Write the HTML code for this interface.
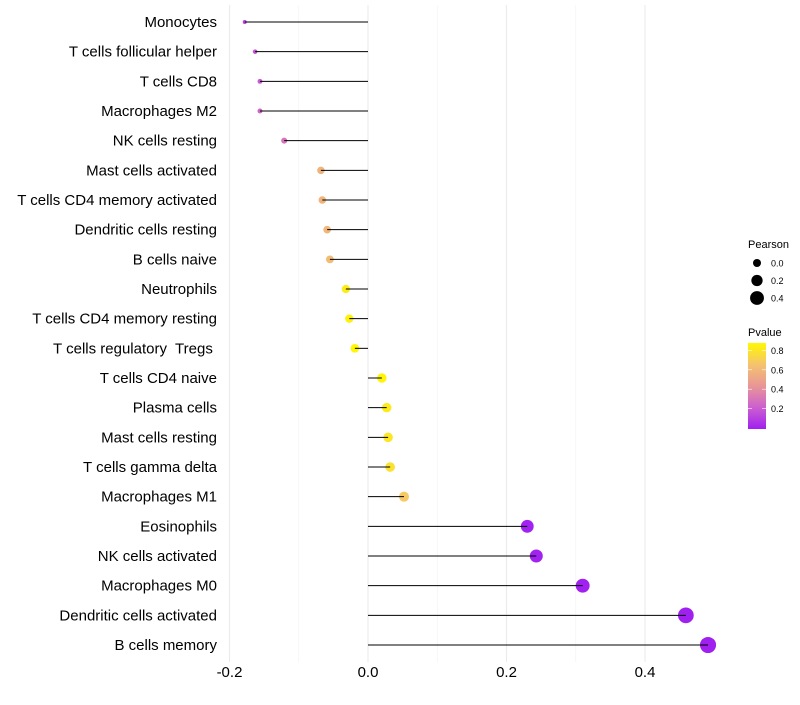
<!DOCTYPE html>
<html><head><meta charset="utf-8"><style>
body{margin:0;background:#fff;font-family:"Liberation Sans",sans-serif}
text{white-space:pre}
</style></head><body>
<svg id="c" width="800" height="700" xmlns="http://www.w3.org/2000/svg"></svg>
<script>
const cats=["Monocytes","T cells follicular helper","T cells CD8","Macrophages M2","NK cells resting","Mast cells activated","T cells CD4 memory activated","Dendritic cells resting","B cells naive","Neutrophils","T cells CD4 memory resting","T cells regulatory  Tregs ","T cells CD4 naive","Plasma cells","Mast cells resting","T cells gamma delta","Macrophages M1","Eosinophils","NK cells activated","Macrophages M0","Dendritic cells activated","B cells memory"];
const pearson=[-0.178,-0.163,-0.156,-0.156,-0.121,-0.068,-0.066,-0.059,-0.055,-0.032,-0.027,-0.019,0.020,0.027,0.029,0.032,0.052,0.230,0.243,0.310,0.459,0.491];
const pvals=[0.12,0.18,0.20,0.24,0.30,0.58,0.58,0.60,0.62,0.83,0.85,0.87,0.86,0.82,0.80,0.78,0.68,0.01,0.01,0.002,0.0,0.0];
const xTicks=[-0.2,0,0.2,0.4];
const xTickLabels=["-0.2","0.0","0.2","0.4"];
const sizeLegend=[0.0,0.2,0.4];
const colorTicks=[0.2,0.4,0.6,0.8];
const NS="http://www.w3.org/2000/svg",svg=document.getElementById('c');
const X=v=>368+v*692.5, Y=i=>22+i*29.667, R=v=>Math.sqrt(Math.max(2,20.2+91*v));
const stops=[[0,[160,32,240]],[0.25,[204,95,208]],[0.5,[232,150,150]],[0.75,[245,195,110]],[1,[255,248,0]]];
function col(p){let t=Math.min(1,Math.max(0,p/0.875));for(let k=1;k<stops.length;k++){if(t<=stops[k][0]){const a=stops[k-1],b=stops[k],f=(t-a[0])/(b[0]-a[0]);return 'rgb('+a[1].map((c,j)=>Math.round(c+(b[1][j]-c)*f)).join(',')+')';}}return 'rgb(255,248,0)';}
function el(t,a,p){const e=document.createElementNS(NS,t);for(const k in a)e.setAttribute(k,a[k]);(p||svg).appendChild(e);return e;}
[-0.1,0.1,0.3].forEach(v=>{const g=el('line',{x1:X(v),x2:X(v),y1:5,y2:662,stroke:'#f3f3f3','stroke-width':0.6});});
xTicks.forEach((v,i)=>{const g=el('line',{x1:X(v),x2:X(v),y1:5,y2:662,stroke:'#ebebeb','stroke-width':1.1});
const t=el('text',{x:X(v),y:677,'text-anchor':'middle','font-size':15,fill:'#000'});t.textContent=xTickLabels[i];});
cats.forEach((c,i)=>{const y=Y(i),v=pearson[i];
const t=el('text',{x:217,y:y+5,'text-anchor':'end','font-size':15,fill:'#000'});t.textContent=c;
const d=el('circle',{cx:X(v),cy:y,r:R(v),fill:col(pvals[i])});
const l=el('line',{x1:X(0),x2:X(v),y1:y,y2:y,stroke:'#000','stroke-width':1});});
let t=el('text',{x:748,y:248,'font-size':11});t.textContent='Pearson';
const LR=v=>Math.sqrt(16+80*v);
sizeLegend.forEach((v,i)=>{const y=263+i*17.5;const c=el('circle',{cx:757,cy:y,r:LR(v),fill:'#000'});
const tt=el('text',{x:771,y:y+3.5,'font-size':9});tt.textContent=v.toFixed(1);});
t=el('text',{x:748,y:336,'font-size':11});t.textContent='Pvalue';
const defs=el('defs',{});const lg=el('linearGradient',{id:'g',x1:0,y1:1,x2:0,y2:0},defs);
stops.forEach(s=>el('stop',{offset:s[0],'stop-color':'rgb('+s[1].join(',')+')'},lg));
const bar=el('rect',{x:748,y:343,width:18,height:86,fill:'url(#g)'});
const CY=p=>428-p*97;
colorTicks.forEach(p=>{el('line',{x1:748,x2:752,y1:CY(p),y2:CY(p),stroke:'#fff','stroke-width':0.6});el('line',{x1:762,x2:766,y1:CY(p),y2:CY(p),stroke:'#fff','stroke-width':0.6});
const tt=el('text',{x:771,y:CY(p)+3.5,'font-size':9});tt.textContent=p.toFixed(1);});
</script>
</body></html>
